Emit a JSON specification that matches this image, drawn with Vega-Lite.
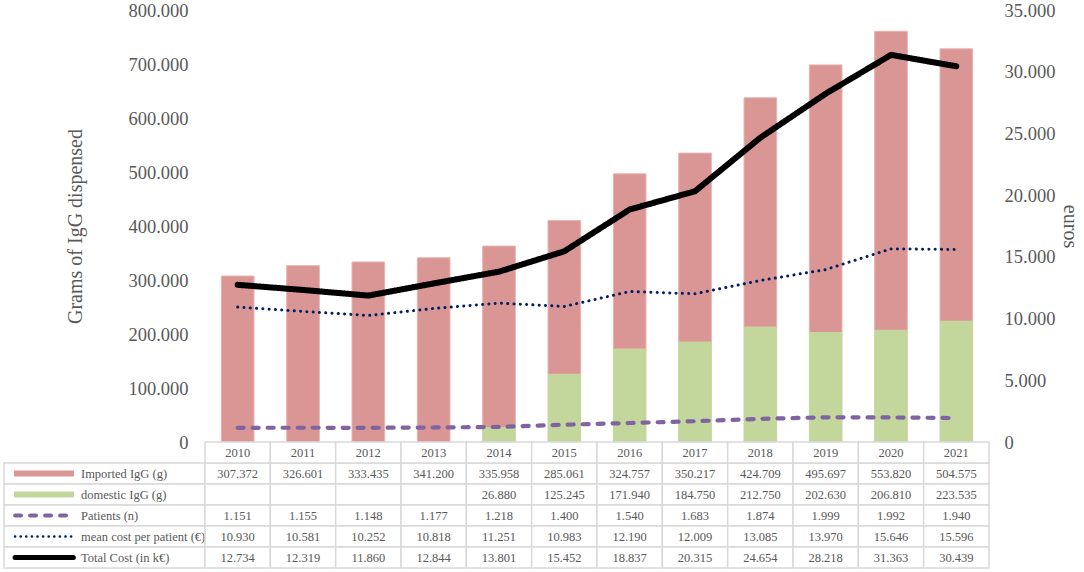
{
  "$schema": "https://vega.github.io/schema/vega-lite/v6.json",
  "description": "IgG dispensed (imported vs domestic) with patients, mean cost per patient and total cost, 2010-2021",
  "background": "white",
  "padding": {"left": 3, "top": 1, "right": 0, "bottom": 0},
  "datasets": {
    "years": [
      {"year": 2010, "imported": 307372, "patients": 1151, "mean_cost": 10930, "total_cost": 12734},
      {"year": 2011, "imported": 326601, "patients": 1155, "mean_cost": 10581, "total_cost": 12319},
      {"year": 2012, "imported": 333435, "patients": 1148, "mean_cost": 10252, "total_cost": 11860},
      {"year": 2013, "imported": 341200, "patients": 1177, "mean_cost": 10818, "total_cost": 12844},
      {"year": 2014, "imported": 335958, "domestic": 26880, "patients": 1218, "mean_cost": 11251, "total_cost": 13801},
      {"year": 2015, "imported": 285061, "domestic": 125245, "patients": 1400, "mean_cost": 10983, "total_cost": 15452},
      {"year": 2016, "imported": 324757, "domestic": 171940, "patients": 1540, "mean_cost": 12190, "total_cost": 18837},
      {"year": 2017, "imported": 350217, "domestic": 184750, "patients": 1683, "mean_cost": 12009, "total_cost": 20315},
      {"year": 2018, "imported": 424709, "domestic": 212750, "patients": 1874, "mean_cost": 13085, "total_cost": 24654},
      {"year": 2019, "imported": 495697, "domestic": 202630, "patients": 1999, "mean_cost": 13970, "total_cost": 28218},
      {"year": 2020, "imported": 553820, "domestic": 206810, "patients": 1992, "mean_cost": 15646, "total_cost": 31363},
      {"year": 2021, "imported": 504575, "domestic": 223535, "patients": 1940, "mean_cost": 15596, "total_cost": 30439}
    ],
    "series": [
      {"key": "imported", "label": "Imported IgG (g)"},
      {"key": "domestic", "label": "domestic IgG (g)"},
      {"key": "patients", "label": "Patients (n)"},
      {"key": "mean_cost", "label": "mean cost per patient (€)"},
      {"key": "total_cost", "label": "Total Cost  (in k€)"}
    ]
  },
  "columns": 2,
  "spacing": 0,
  "bounds": "flush",
  "resolve": {
    "scale": {"x": "independent", "y": "independent", "color": "independent", "strokeDash": "independent", "strokeWidth": "independent"}
  },
  "concat": [
    {
      "width": 201,
      "height": 432,
      "data": {"values": []},
      "mark": "point",
      "encoding": {}
    },
    {
      "width": 784,
      "height": 432,
      "data": {"name": "years"},
      "layer": [
        {
          "transform": [
            {"fold": ["imported", "domestic"], "as": ["key", "value"]},
            {"filter": "isValid(datum.value)"}
          ],
          "mark": {"type": "bar"},
          "encoding": {
            "x": {"field": "year", "type": "ordinal", "scale": {"type": "band", "paddingInner": 0.5, "paddingOuter": 0.25}, "axis": null},
            "y": {
              "field": "value", "type": "quantitative", "stack": "zero",
              "scale": {"domain": [0, 800000], "nice": false},
              "axis": {
                "orient": "left", "title": "Grams  of IgG dispensed",
                "values": [0, 100000, 200000, 300000, 400000, 500000, 600000, 700000, 800000],
                "format": ",.0f", "domain": false, "ticks": false, "grid": false,
                "labelFontSize": 18.5, "labelColor": "#595959", "labelPadding": 17,
                "titleFontSize": 20, "titleFontWeight": "normal", "titleColor": "#595959", "titlePadding": 42
              }
            },
            "color": {"field": "key", "type": "nominal", "scale": {"domain": ["imported", "domestic"], "range": ["#D99694", "#C3D69B"]}, "legend": null},
            "stroke": {"field": "key", "type": "nominal", "scale": {"domain": ["imported", "domestic"], "range": ["#E8B4B2", "#C3D69B"]}, "legend": null},
            "order": {"field": "key", "sort": "ascending"}
          }
        },
        {
          "transform": [
            {"fold": ["patients", "mean_cost", "total_cost"], "as": ["key", "value"]}
          ],
          "mark": {"type": "line", "strokeCap": "round", "strokeJoin": "round"},
          "encoding": {
            "x": {"field": "year", "type": "ordinal"},
            "y": {
              "field": "value", "type": "quantitative",
              "scale": {"domain": [0, 35000], "nice": false},
              "axis": {
                "orient": "right", "title": "euros",
                "values": [0, 5000, 10000, 15000, 20000, 25000, 30000, 35000],
                "format": ",.0f", "domain": false, "ticks": false, "grid": false,
                "labelFontSize": 18.5, "labelColor": "#595959", "labelPadding": 15,
                "titleFontSize": 20, "titleFontWeight": "normal", "titleColor": "#595959", "titlePadding": 5
              }
            },
            "detail": {"field": "key"},
            "color": {"field": "key", "type": "nominal", "scale": {"domain": ["patients", "mean_cost", "total_cost"], "range": ["#8064A2", "#002060", "#000000"]}, "legend": null},
            "strokeDash": {"field": "key", "type": "nominal", "scale": {"domain": ["patients", "mean_cost", "total_cost"], "range": [[6, 9], [0.1, 6.2], [1, 0]]}, "legend": null},
            "strokeWidth": {"field": "key", "type": "nominal", "scale": {"type": "ordinal", "domain": ["patients", "mean_cost", "total_cost"], "range": [4.2, 3, 6]}, "legend": null}
          }
        }
      ],
      "resolve": {"scale": {"y": "independent", "color": "independent", "stroke": "independent"}}
    },
    {
      "width": 201,
      "height": 126,
      "data": {"name": "series"},
      "encoding": {
        "y": {
          "field": "key", "type": "nominal",
          "scale": {"domain": ["year", "imported", "domestic", "patients", "mean_cost", "total_cost"], "paddingInner": 0, "paddingOuter": 0},
          "axis": null
        }
      },
      "layer": [
        {
          "mark": {"type": "rect", "fill": "white", "stroke": "#D9D9D9", "strokeWidth": 1.5},
          "encoding": {
            "x": {"datum": 0, "type": "quantitative", "scale": {"domain": [0, 100], "nice": false, "zero": false}, "axis": null},
            "x2": {"datum": 100}
          }
        },
        {
          "transform": [{"filter": "datum.key === 'imported' || datum.key === 'domestic'"}],
          "mark": {"type": "rule", "strokeCap": "butt", "strokeWidth": 6},
          "encoding": {
            "x": {"datum": 5, "type": "quantitative"},
            "x2": {"datum": 34.8},
            "color": {"field": "key", "type": "nominal", "scale": {"domain": ["imported", "domestic"], "range": ["#D99694", "#C3D69B"]}, "legend": null}
          }
        },
        {
          "transform": [{"filter": "datum.key !== 'imported' && datum.key !== 'domestic'"}],
          "mark": {"type": "rule", "strokeCap": "round"},
          "encoding": {
            "x": {"datum": 5.5, "type": "quantitative"},
            "x2": {"datum": 34.5},
            "color": {"field": "key", "type": "nominal", "scale": {"domain": ["patients", "mean_cost", "total_cost"], "range": ["#8064A2", "#002060", "#000000"]}, "legend": null},
            "strokeDash": {"field": "key", "type": "nominal", "scale": {"domain": ["patients", "mean_cost", "total_cost"], "range": [[6, 9], [0.1, 5.5], [1, 0]]}, "legend": null},
            "strokeWidth": {"field": "key", "type": "nominal", "scale": {"type": "ordinal", "domain": ["patients", "mean_cost", "total_cost"], "range": [4, 2.6, 5]}, "legend": null}
          }
        },
        {
          "mark": {"type": "text", "align": "left", "baseline": "middle", "fontSize": 12.5, "color": "#595959"},
          "encoding": {
            "x": {"datum": 38.3, "type": "quantitative"},
            "text": {"field": "label", "type": "nominal"}
          }
        }
      ],
      "resolve": {"scale": {"color": "independent"}}
    },
    {
      "width": 784,
      "height": 126,
      "data": {"name": "years"},
      "transform": [
        {"fold": ["imported", "domestic", "patients", "mean_cost", "total_cost"], "as": ["key", "value"]}
      ],
      "encoding": {
        "x": {"field": "year", "type": "ordinal", "scale": {"type": "band", "paddingInner": 0, "paddingOuter": 0}, "axis": null}
      },
      "layer": [
        {
          "mark": {"type": "rect", "fill": "white", "stroke": "#D9D9D9", "strokeWidth": 1.5},
          "encoding": {
            "y": {
              "field": "key", "type": "nominal",
              "scale": {"domain": ["year", "imported", "domestic", "patients", "mean_cost", "total_cost"], "paddingInner": 0, "paddingOuter": 0},
              "axis": null
            }
          }
        },
        {
          "transform": [{"filter": "datum.key === 'imported'"}],
          "mark": {"type": "rect", "fill": "white", "stroke": "#D9D9D9", "strokeWidth": 1.5},
          "encoding": {"y": {"datum": "year", "type": "nominal"}}
        },
        {
          "transform": [{"filter": "datum.key === 'imported'"}],
          "mark": {"type": "text", "baseline": "middle", "fontSize": 12.5, "color": "#595959"},
          "encoding": {
            "y": {"datum": "year", "type": "nominal"},
            "text": {"field": "year", "type": "nominal"}
          }
        },
        {
          "transform": [{"filter": "isValid(datum.value)"}],
          "mark": {"type": "text", "baseline": "middle", "fontSize": 12.5, "color": "#595959"},
          "encoding": {
            "y": {"field": "key", "type": "nominal"},
            "text": {"field": "value", "type": "quantitative", "format": ",.0f"}
          }
        }
      ]
    }
  ],
  "config": {
    "font": "Liberation Serif",
    "view": {"stroke": null},
    "locale": {
      "number": {"decimal": ",", "thousands": ".", "grouping": [3], "currency": ["", " €"]}
    }
  }
}
